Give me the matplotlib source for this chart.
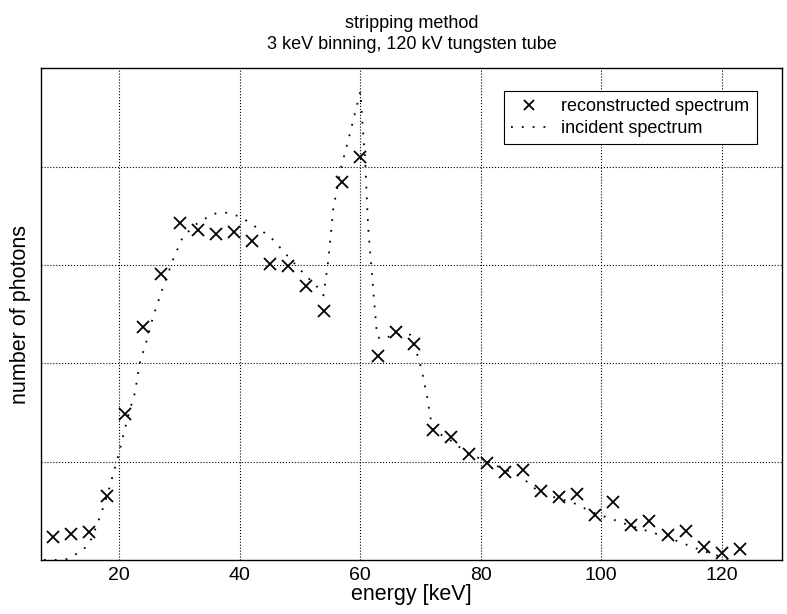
import numpy as np
import matplotlib
matplotlib.use("Agg")
import matplotlib.pyplot as plt

plt.rcParams['font.family'] = ['Liberation Sans', 'DejaVu Sans']

# reconstructed spectrum (3 keV bins), arbitrary units
energy_bins = [9, 12, 15, 18, 21, 24, 27, 30, 33, 36, 39, 42, 45, 48, 51, 54, 57, 60,
               63, 66, 69, 72, 75, 78, 81, 84, 87, 90, 93, 96, 99, 102, 105, 108, 111,
               114, 117, 120, 123]
reconstructed = [0.23, 0.26, 0.28, 0.65, 1.48, 2.37, 2.91, 3.43, 3.35, 3.31, 3.33, 3.24,
                 3.01, 2.99, 2.79, 2.53, 3.84, 4.10, 2.07, 2.32, 2.20, 1.32, 1.25, 1.08,
                 0.99, 0.89, 0.91, 0.70, 0.64, 0.67, 0.46, 0.59, 0.36, 0.40, 0.25, 0.29,
                 0.13, 0.07, 0.11]

# incident spectrum
incident_e = [7.5, 9.5, 11.5, 12.6, 13.8, 14.9, 16.0, 16.8, 17.6, 18.5, 19.0, 19.6, 20.6,
              21.5, 22.6, 23.4, 24.6, 25.6, 27.3, 28.9, 30.6, 32.9, 35.6, 37.8, 40.1,
              42.3, 45.0, 47.8, 50.5, 52.8, 53.9, 54.7, 55.5, 56.7, 58.3, 59.4, 60.0,
              60.8, 61.3, 62.2, 62.8, 63.6, 65.5, 68.3, 69.4, 70.2, 71.1, 71.6, 72.1,
              74.9, 77.7, 81.0, 86.6, 89.9, 95.4, 98.7, 105.3, 111.0, 116.5, 121.5]
incident = [0.0, 0.0, 0.01, 0.05, 0.10, 0.15, 0.31, 0.44, 0.58, 0.76, 0.88, 1.0, 1.25,
            1.47, 1.70, 2.0, 2.24, 2.47, 2.78, 3.05, 3.29, 3.42, 3.52, 3.53, 3.49,
            3.40, 3.29, 3.10, 2.92, 2.78, 2.69, 3.05, 3.56, 3.96, 4.34, 4.61, 4.76,
            4.07, 3.39, 2.71, 2.27, 2.24, 2.29, 2.29, 2.10, 1.93, 1.66, 1.46, 1.32,
            1.22, 1.09, 1.0, 0.85, 0.68, 0.58, 0.48, 0.34, 0.23, 0.10, 0.0]

fig = plt.figure(figsize=(7.87, 6.14), dpi=100)
ax = fig.add_axes([0.052, 0.088, 0.9417, 0.801])

ax.plot(energy_bins, reconstructed, linestyle='none', marker='x', color='black',
        markersize=9, markeredgewidth=1.3, label='reconstructed spectrum')
ax.plot(incident_e, incident, linestyle=(0, (1, 5)), color='black', linewidth=1.3,
        label='incident spectrum')

ax.set_xlim(7, 130)
ax.set_ylim(0, 5)
ax.set_xticks([20, 40, 60, 80, 100, 120])
ax.set_yticks([1, 2, 3, 4])
ax.set_yticklabels([])
ax.tick_params(length=0, labelsize=14, pad=5)
ax.grid(True, linestyle=':', color='black', linewidth=0.8)
for s in ax.spines.values():
    s.set_linewidth(1.0)

ax.set_xlabel('energy [keV]', fontsize=15.5, labelpad=0)
ax.set_ylabel('number of photons', fontsize=15.5, labelpad=2.5)
ax.set_title('stripping method\n3 keV binning, 120 kV tungsten tube', fontsize=13,
             pad=14, linespacing=1.3,
             family=['Liberation Sans Narrow', 'Liberation Sans', 'DejaVu Sans'])

leg = ax.legend(loc='upper right', bbox_to_anchor=(0.966, 0.953), fontsize=13,
                fancybox=False, framealpha=1, edgecolor='black', borderpad=0.4,
                handlelength=2.0, handletextpad=0.8, labelspacing=0.25,
                borderaxespad=0, markerscale=0.8)
leg.get_frame().set_linewidth(0.8)

fig.savefig('out.png', dpi=100)
